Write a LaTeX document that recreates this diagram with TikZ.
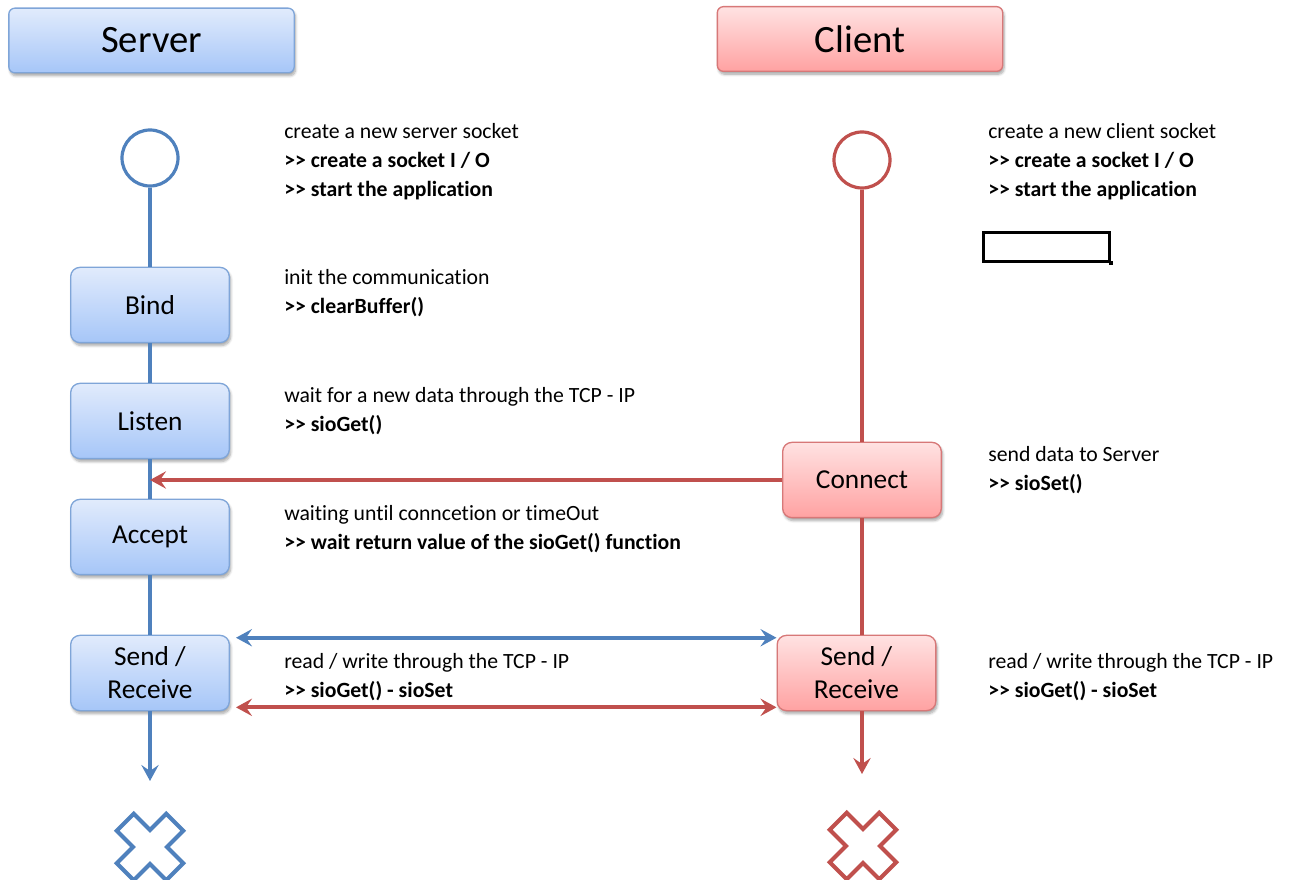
\documentclass[tikz,border=0pt]{standalone}
\usepackage{fontspec}
\setmainfont{Carlito}[Ligatures={NoCommon}]
\usetikzlibrary{arrows.meta,shadows.blur,calc}

\definecolor{srvline}{HTML}{4F81BD}
\definecolor{cliline}{HTML}{C0504D}
\definecolor{srvtop}{HTML}{E1EBFC}
\definecolor{srvbot}{HTML}{A6C6F8}
\definecolor{srvedge}{HTML}{7FA5D8}
\definecolor{clitop}{HTML}{FFE2E2}
\definecolor{clibot}{HTML}{FFA2A2}
\definecolor{cliedge}{HTML}{D77878}

% two separate '>' so the pair is not set as a guillemet
\newcommand{\gtgt}{>{}>}

\tikzset{
  shade/.style={blur shadow={shadow xshift=1pt, shadow yshift=-2.2pt, shadow blur steps=6, shadow opacity=35}},
  srvbox/.style={shade, draw=srvedge, line width=1pt, rounded corners=7pt, top color=srvtop, bottom color=srvbot},
  clibox/.style={shade, draw=cliedge, line width=1pt, rounded corners=7pt, top color=clitop, bottom color=clibot},
  titlebox/.style={minimum width=214pt, minimum height=48.5pt, rounded corners=4.5pt, font=\fontsize{29}{33}\selectfont},
  stepbox/.style={minimum width=119pt, minimum height=56.5pt, align=center, font=\fontsize{20.5}{24.75}\selectfont},
  startnode/.style={circle, line width=2.4pt, minimum size=42pt, inner sep=0pt, fill=white},
  life/.style={line width=3pt},
  tip/.style={-{Stealth[length=12pt, width=13pt, inset=4.5pt]}},
  twotip/.style={{Stealth[length=12pt, width=13pt, inset=4.5pt]}-{Stealth[length=12pt, width=13pt, inset=4.5pt]}},
  txt/.style={anchor=base west, inner sep=0pt, font=\fontsize{16.3}{19}\selectfont},
  btxt/.style={txt, font=\fontsize{16.3}{19}\selectfont\bfseries},
  endmark/.style={line width=3pt, line join=miter}
}

\begin{document}
\begin{tikzpicture}[x=0.75pt, y=-0.75pt]
\useasboundingbox (0,0) rectangle (1290,880);

% column headers
\node[srvbox, titlebox] (srvtitle) at (151.5,40.5) {Server};
\node[clibox, titlebox] (clititle) at (860,39) {Client};

% start states
\node[startnode, draw=srvline] (sstart) at (150,158) {};
\node[startnode, draw=cliline] (cstart) at (862,160) {};

% server steps
\node[srvbox, stepbox] (bind)   at (150,305) {Bind};
\node[srvbox, stepbox] (listen) at (150,421) {Listen};
\node[srvbox, stepbox] (accept) at (150,537) {Accept};
\node[srvbox, stepbox] (ssr)    at (150,673) {Send /\\Receive};

% client steps
\node[clibox, stepbox] (connect) at (862,480) {Connect};
\node[clibox, stepbox] (csr)     at (856.5,673) {Send /\\Receive};

% lifeline ends
\coordinate (send) at (150,781);
\coordinate (cend) at (862,774);
\coordinate (hit)  at (150,480);

% server lifeline
\draw[life, srvline] (sstart) -- (bind);
\draw[life, srvline] (bind) -- (listen);
\draw[life, srvline] (listen) -- (accept);
\draw[life, srvline] (accept) -- (ssr);
\draw[life, srvline, tip] (ssr) -- (send);

% client lifeline
\draw[life, cliline] (cstart) -- (connect);
\draw[life, cliline] (connect) -- (connect |- csr.north);
\draw[life, cliline, tip] (csr.south -| cend) -- (cend);

% messages
\draw[life, cliline, tip] (connect.west) -- (hit);
\draw[life, srvline, twotip] ([xshift=4.5pt, yshift=-2.3pt]ssr.north east) -- ([yshift=-2.3pt]csr.north west);
\draw[life, cliline, twotip] ([xshift=4.5pt, yshift=3pt]ssr.south east) -- ([yshift=3pt]csr.south west);

% end states
\draw[endmark, draw=srvline, fill=white, shift={(150,847)}, rotate=45]
  (12,12) -- (12,35) -- (-12,35) -- (-12,12) -- (-35,12) -- (-35,-12) -- (-12,-12)
  -- (-12,-35) -- (12,-35) -- (12,-12) -- (35,-12) -- (35,12) -- cycle;
\draw[endmark, draw=cliline, fill=white, shift={(863,846)}, rotate=45]
  (12,12) -- (12,35) -- (-12,35) -- (-12,12) -- (-35,12) -- (-35,-12) -- (-12,-12)
  -- (-12,-35) -- (12,-35) -- (12,-12) -- (35,-12) -- (35,12) -- cycle;

% empty frame with its corner handle
\node[draw, line width=2.2pt, minimum width=94.5pt, minimum height=22pt, inner sep=0pt] (frame) at (1046.5,247) {};
\node[fill=black, minimum size=3.5pt, inner sep=0pt] (handle) at (frame.south east) {};

% server notes
\node[txt]  (n1a) at (284,139) {create a new server socket};
\node[btxt] (n1b) at (284,168) {\gtgt{} create a socket I / O};
\node[btxt] (n1c) at (284,197) {\gtgt{} start the application};
\node[txt]  (n2a) at (284,285) {init the communication};
\node[btxt] (n2b) at (284,314) {\gtgt{} clearBuffer()};
\node[txt]  (n3a) at (284,403) {wait for a new data through the TCP - IP};
\node[btxt] (n3b) at (284,432) {\gtgt{} sioGet()};
\node[txt]  (n4a) at (284,521) {waiting until conncetion or timeOut};
\node[btxt] (n4b) at (284,550) {\gtgt{} wait return value of the sioGet() function};
\node[txt]  (n5a) at (284,668) {read / write through the TCP - IP};
\node[btxt] (n5b) at (284,697) {\gtgt{} sioGet() - sioSet};

% client notes
\node[txt]  (m1a) at (988,139) {create a new client socket};
\node[btxt] (m1b) at (988,168) {\gtgt{} create a socket I / O};
\node[btxt] (m1c) at (988,197) {\gtgt{} start the application};
\node[txt]  (m2a) at (988,462) {send data to Server};
\node[btxt] (m2b) at (988,491) {\gtgt{} sioSet()};
\node[txt]  (m3a) at (988,668) {read / write through the TCP - IP};
\node[btxt] (m3b) at (988,697) {\gtgt{} sioGet() - sioSet};
\end{tikzpicture}
\end{document}
